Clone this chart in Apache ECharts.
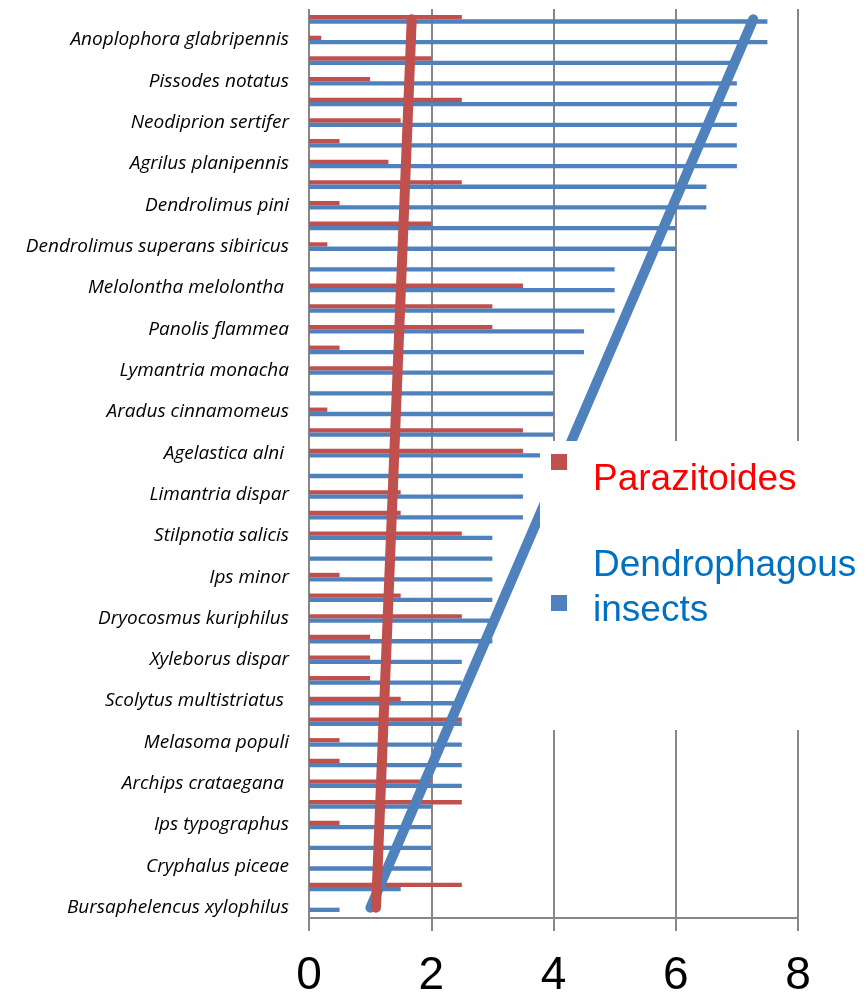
<!DOCTYPE html>
<html><head><meta charset="utf-8">
<script src="https://cdn.jsdelivr.net/npm/echarts@6/dist/echarts.min.js"></script>
<style>html,body{margin:0;padding:0;background:#fff}#chart{width:868px;height:994px}</style>
</head><body><div id="chart"></div>
<script>
// Rows listed from top to bottom; unlabeled rows have an empty name
const categories = ['', 'Anoplophora glabripennis', '', 'Pissodes notatus', '', 'Neodiprion sertifer', '', 'Agrilus planipennis', '', 'Dendrolimus pini', '', 'Dendrolimus superans sibiricus', '', 'Melolontha melolontha ', '', 'Panolis flammea', '', 'Lymantria monacha', '', 'Aradus cinnamomeus', '', 'Agelastica alni ', '', 'Limantria dispar', '', 'Stilpnotia salicis', '', 'Ips minor', '', 'Dryocosmus kuriphilus', '', 'Xyleborus dispar', '', 'Scolytus multistriatus ', '', 'Melasoma populi', '', 'Archips crataegana ', '', 'Ips typographus', '', 'Cryphalus piceae', '', 'Bursaphelencus xylophilus'];
const parazitoides = [2.5, 0.2, 2, 1, 2.5, 1.5, 0.5, 1.3, 2.5, 0.5, 2, 0.3, 0, 3.5, 3, 3, 0.5, 1.5, 0, 0.3, 3.5, 3.5, 0, 1.5, 1.5, 2.5, 0, 0.5, 1.5, 2.5, 1, 1, 1, 1.5, 2.5, 0.5, 0.5, 2, 2.5, 0.5, 0, 0, 2.5, 0];
const dendrophagous = [7.5, 7.5, 7, 7, 7, 7, 7, 7, 6.5, 6.5, 6, 6, 5, 5, 5, 4.5, 4.5, 4, 4, 4, 4, 4, 3.5, 3.5, 3.5, 3, 3, 3, 3, 3, 3, 2.5, 2.5, 2.5, 2.5, 2.5, 2.5, 2.5, 2, 2, 2, 2, 1.5, 0.5];
const xTicks = [0, 2, 4, 6, 8];
const seriesNames = ['Parazitoides', 'Dendrophagous insects'];

// Linear trendline (least squares) over the category order, bottom row = 1
function trendEnds(vals) {
  const n = vals.length;
  let sx = 0, sy = 0, sxx = 0, sxy = 0;
  vals.forEach((v, i) => { const x = n - i; sx += x; sy += v; sxx += x * x; sxy += x * v; });
  const b = (n * sxy - sx * sy) / (n * sxx - sx * sx);
  const a = (sy - b * sx) / n;
  return [[a + b * n, 0], [a + b * 1, n - 1]];
}

const RED = '#C0504D', BLUE = '#4F81BD', GRID = '#878787';
const chart = echarts.init(document.getElementById('chart'), null, {renderer: 'canvas'});
chart.setOption({
  animation: false,
  backgroundColor: '#fff',
  grid: {left: 309, right: 70, top: 9, bottom: 76, containLabel: false, outerBoundsMode: 'none'},
  xAxis: {
    type: 'value', min: xTicks[0], max: xTicks[xTicks.length - 1], interval: 2,
    axisLine: {show: true, lineStyle: {color: GRID, width: 2}},
    axisTick: {show: true, length: 13, lineStyle: {color: GRID, width: 2}},
    splitLine: {show: true, lineStyle: {color: GRID, width: 2}},
    axisLabel: {color: '#000', fontSize: 46, fontFamily: 'Liberation Sans', margin: 35}
  },
  yAxis: {
    type: 'category', inverse: true, data: categories,
    axisLine: {show: false}, axisTick: {show: false}, splitLine: {show: false},
    axisLabel: {interval: 0, color: '#000', fontSize: 19, fontStyle: 'italic', fontFamily: 'Open Sans', margin: 20}
  },
  legend: [
    {
      data: [seriesNames[0]], left: 551, top: 435, orient: 'vertical', padding: 0, z: 6,
      itemWidth: 16, itemHeight: 16, icon: 'rect',
      formatter: (n) => '{e| }\n{a|' + n + '}',
      textStyle: {color: '#FF0000', fontSize: 37, fontFamily: 'Liberation Sans', padding: [0, 0, 0, 21],
        rich: {
          e: {fontSize: 10, lineHeight: 36},
          a: {color: '#FF0000', fontSize: 37, fontFamily: 'Liberation Sans', lineHeight: 44}
        }}
    },
    {
      data: [seriesNames[1]], left: 551, top: 547, orient: 'vertical', padding: 0, z: 6,
      itemWidth: 16, itemHeight: 16, icon: 'rect',
      formatter: () => '{a|Dendrophagous}\n{a|insects}\n{e| }',
      textStyle: {color: '#0070C0', fontSize: 37, fontFamily: 'Liberation Sans', padding: [0, 0, 0, 21],
        rich: {
          e: {fontSize: 10, lineHeight: 30},
          a: {color: '#0070C0', fontSize: 37, fontFamily: 'Liberation Sans', lineHeight: 45}
        }}
    }
  ],
  graphic: [{
    type: 'rect', left: 540, top: 441, z: 5,
    shape: {width: 328, height: 289}, style: {fill: '#fff'}
  }],
  series: [
    {name: seriesNames[0], type: 'bar', data: parazitoides, barWidth: 4.3, barGap: '0%',
     itemStyle: {color: RED}},
    {name: seriesNames[1], type: 'bar', data: dendrophagous, barWidth: 4.3, barGap: '0%',
     itemStyle: {color: BLUE}},
    {name: 'trend2', type: 'line', data: trendEnds(dendrophagous), symbol: 'none',
     lineStyle: {color: BLUE, width: 10, cap: 'round'}},
    {name: 'trend1', type: 'line', data: trendEnds(parazitoides), symbol: 'none',
     lineStyle: {color: RED, width: 10, cap: 'round'}}
  ]
});
</script></body></html>
